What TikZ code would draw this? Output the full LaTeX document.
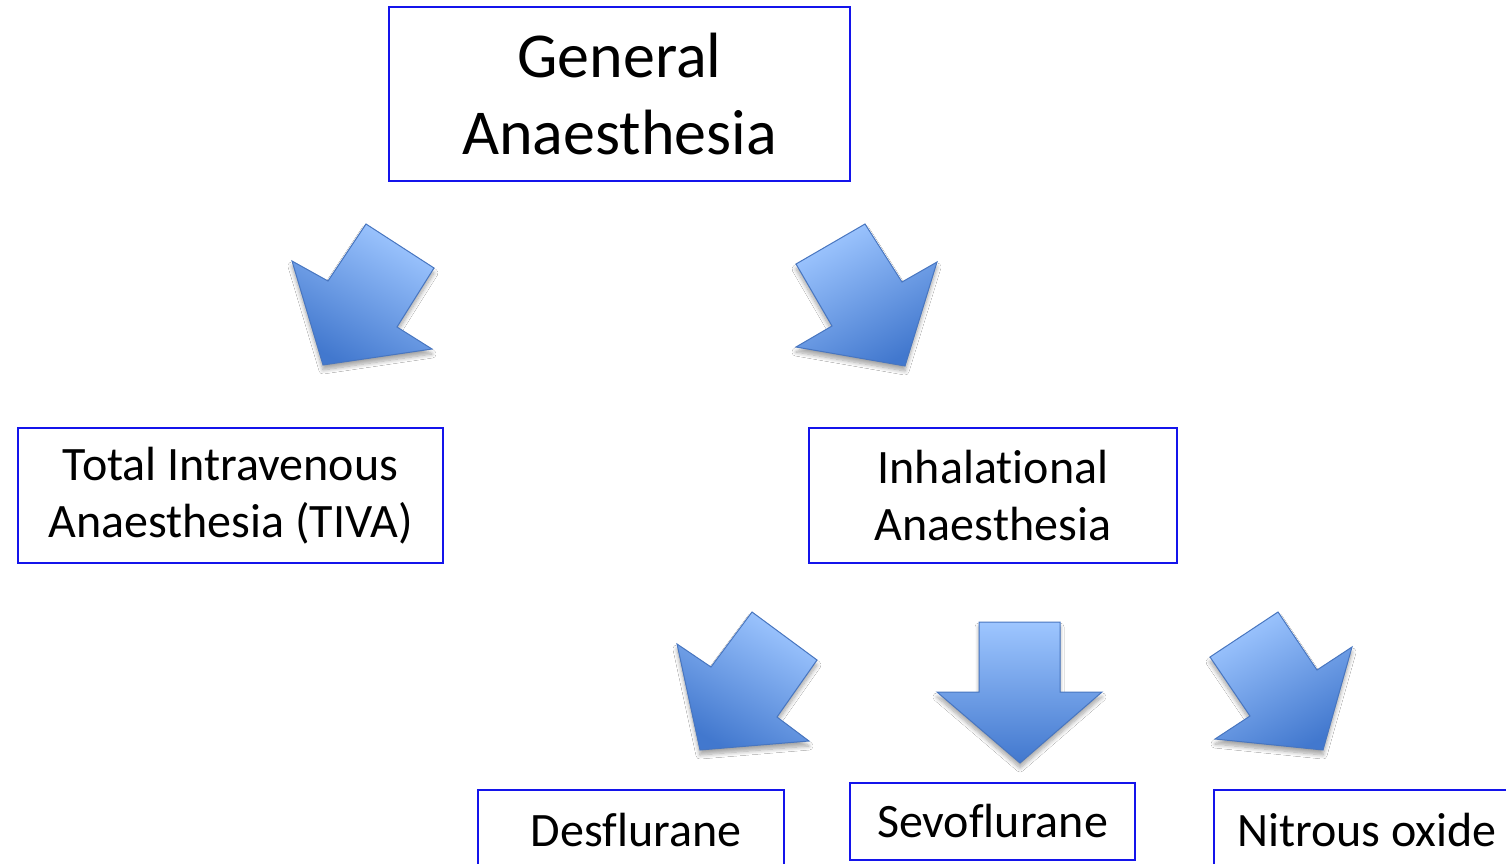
\documentclass[tikz,border=0pt]{standalone}
\usepackage{fontspec}
\setmainfont[Ligatures=NoCommon]{Carlito}
\usetikzlibrary{shadows.blur}
\definecolor{boxblue}{RGB}{20,20,235}
\definecolor{arrlight}{RGB}{158,198,255}
\definecolor{arrdark}{RGB}{66,120,206}
\definecolor{arredge}{RGB}{72,118,192}
\tikzset{
  catbox/.style={draw=boxblue, line width=1.4pt, fill=white, align=center, inner sep=0pt},
  bigtext/.style={font=\fontsize{64}{77}\selectfont},
  midtext/.style={font=\fontsize{48}{57}\selectfont},
  blockarrow/.style={draw=arredge, line width=1pt, line join=miter,
    top color=arrlight, bottom color=arrdark,
    blur shadow={shadow xshift=0pt, shadow yshift=-5pt, shadow opacity=35, shadow blur steps=8, shadow blur radius=4pt}},
}
\begin{document}
\begin{tikzpicture}[x=1pt,y=-1pt]
\clip (0,0) rectangle (1506,864);
\fill[white] (0,0) rectangle (1506,864);
% boxes
\node[catbox, bigtext, minimum width=461, minimum height=174] (ga) at (619.5,94) {General\\Anaesthesia};
\node[catbox, midtext, minimum width=425, minimum height=135] (tiva) at (230.5,495.5) {Total Intravenous\\Anaesthesia (TIVA)};
\node[catbox, midtext, minimum width=368, minimum height=135] (inh) at (993,495.5) {Inhalational\\Anaesthesia};
\node[catbox, midtext, minimum width=306, minimum height=80] (des) at (631,830) {\hspace{10pt}Desflurane};
\node[catbox, midtext, minimum width=285, minimum height=77] (sevo) at (992.5,821.5) {Sevoflurane};
\node[catbox, midtext, minimum width=306, minimum height=80] (nit) at (1367,830) {Nitrous oxide};
% block arrows
\path[blockarrow, shading angle=-30] (292,261) -- (328,281) -- (366,224) -- (434,268) -- (397,327) -- (432,349) -- (323,365) -- cycle;
\path[blockarrow, shading angle=30] (796,264) -- (865,224) -- (902,282) -- (937,262) -- (905,366) -- (796,347) -- (832,326) -- cycle;
\path[blockarrow, shading angle=-30] (677,644) -- (711,667) -- (752,612) -- (817,660) -- (777,717) -- (809,741) -- (700,750) -- cycle;
\path[blockarrow] (979,622) -- (1060,622) -- (1060,692) -- (1102,692) -- (1020,763) -- (937,692) -- (979,692) -- cycle;
\path[blockarrow, shading angle=30] (1210,657) -- (1278,612) -- (1317,670) -- (1352,647) -- (1323,750) -- (1215,739) -- (1250,716) -- cycle;
\end{tikzpicture}
\end{document}
